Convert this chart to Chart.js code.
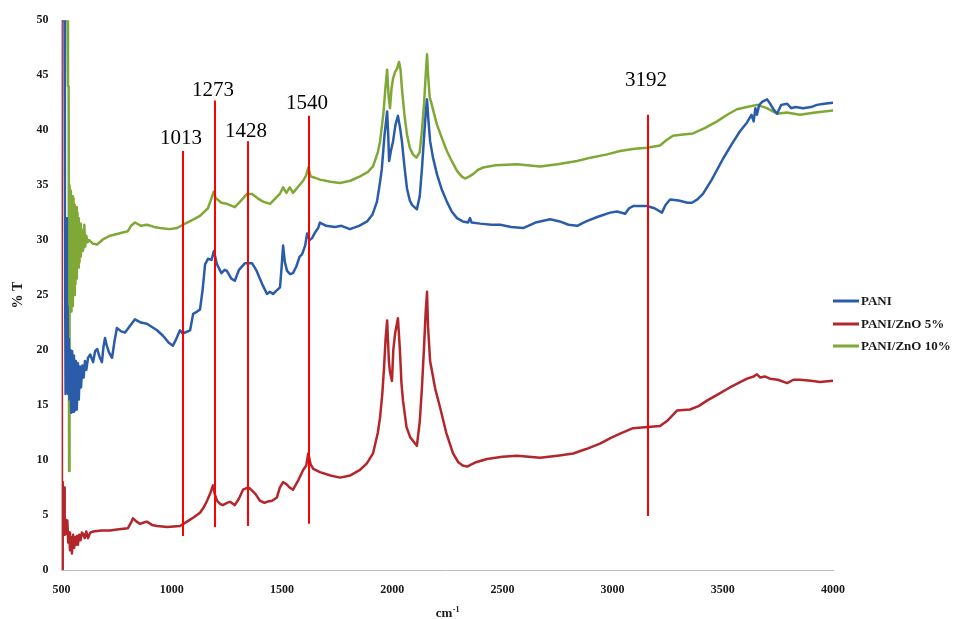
<!DOCTYPE html>
<html>
<head>
<meta charset="utf-8">
<script src="https://cdn.jsdelivr.net/npm/chart.js@4/dist/chart.umd.min.js"></script>
<style>
  html, body { margin: 0; padding: 0; background: #ffffff; }
  #wrap { width: 954px; height: 619px; position: relative; }
</style>
</head>
<body>
<div id="wrap"><canvas id="ftir" width="954" height="619"></canvas></div>
<script>
// FTIR spectra: wavenumber (cm-1) against transmittance (% T)
const seriesNames = ['PANI', 'PANI/ZnO 5%', 'PANI/ZnO 10%'];
const seriesColors = ['#2a5caa', '#b3262b', '#7fa836'];

const paniWave = [506,513,515,518,521,524,527,530,533,536,540,544,548,552,556,560,565,569,574,578,583,588,594,600,606,612,620,630,643,652,661,672,683,690,697,705,715,729,740,751,770,788,810,833,860,887,910,933,960,985,1005,1020,1037,1050,1060,1083,1097,1115,1128,1140,1151,1164,1180,1191,1205,1225,1240,1250,1270,1286,1305,1332,1364,1385,1410,1432,1445,1459,1475,1491,1498,1505,1513,1523,1537,1550,1565,1580,1591,1605,1614,1625,1637,1650,1664,1672,1700,1740,1770,1808,1850,1886,1910,1931,1945,1953,1965,1977,1982,1986,1995,2004,2015,2026,2035,2044,2055,2067,2080,2090,2112,2125,2135,2145,2152,2158,2164,2172,2185,2203,2225,2248,2270,2294,2320,2344,2353,2360,2400,2450,2490,2540,2594,2650,2717,2760,2800,2839,2880,2930,2989,3020,3057,3075,3093,3156,3190,3224,3240,3261,3300,3340,3360,3385,3410,3450,3501,3540,3578,3610,3630,3640,3648,3655,3665,3680,3701,3715,3730,3746,3765,3792,3810,3830,3864,3900,3927,3960,4000];
const paniT = [50,50,32.4,16,32,16.2,24,16,21,15.5,20,14.3,19.9,14.4,19.5,14.5,19,14.6,18.8,15.5,18.5,16.6,18.6,17.5,19,18.2,19.3,19.6,18.9,19.9,20.1,19.4,18.9,20.3,21.1,20.4,19.8,19.3,20.8,22.0,21.7,21.6,22.2,22.8,22.5,22.4,22.1,21.8,21.3,20.7,20.4,21.0,21.8,21.5,21.6,21.8,23.3,23.5,23.7,25.5,27.8,28.3,28.2,29.0,27.8,27.0,27.3,27.2,26.5,26.3,27.3,27.9,27.9,27.2,26.0,25.1,25.3,25.1,25.4,25.7,27.5,29.5,28.0,27.2,26.9,27.0,27.6,28.5,28.7,29.5,30.6,30.0,30.2,30.7,31.1,31.6,31.3,31.2,31.3,31.0,31.3,31.7,32.3,33.5,35.3,36.5,39.5,41.7,39.5,37.2,38.2,39.0,40.5,41.3,40.3,39.0,36.8,34.7,33.6,33.2,32.8,34.0,36.5,39.5,41.5,42.8,41.0,39.0,37.5,36.0,34.6,33.5,32.6,32.0,31.7,31.6,32.0,31.6,31.5,31.4,31.4,31.2,31.1,31.6,31.9,31.7,31.4,31.3,31.7,32.1,32.5,32.6,32.4,32.9,33.1,33.1,32.9,32.5,33.2,33.7,33.6,33.4,33.4,33.7,34.2,35.5,37.4,38.7,39.9,40.7,41.4,40.8,42.0,41.4,42.3,42.6,42.8,42.4,41.9,41.5,42.3,42.4,42.0,42.1,42.0,42.1,42.3,42.4,42.5];

const zno5Wave = [500,502,505,508,511,514,518,522,526,530,534,538,542,547,552,557,561,566,570,574,580,586,592,597,605,612,620,630,643,680,720,760,801,815,824,840,856,870,887,910,933,980,1037,1069,1100,1128,1145,1160,1175,1187,1195,1205,1220,1232,1250,1264,1286,1305,1323,1345,1355,1380,1400,1420,1432,1455,1477,1490,1505,1520,1535,1550,1575,1596,1610,1619,1630,1642,1672,1720,1763,1810,1854,1885,1913,1935,1945,1955,1963,1970,1977,1985,1990,1999,2005,2013,2026,2035,2042,2049,2065,2081,2100,2112,2125,2135,2145,2152,2158,2163,2172,2195,2217,2245,2276,2300,2320,2340,2380,2430,2500,2566,2620,2671,2750,2821,2880,2943,2990,3034,3093,3160,3215,3250,3292,3351,3390,3428,3480,3532,3570,3610,3640,3655,3670,3690,3714,3750,3792,3820,3850,3900,3941,4000];
const zno5T = [50,0,8,3.3,7.5,3.2,4.6,3.3,4.5,2.5,3.4,1.8,3.0,1.5,3.2,2.0,3.0,2.3,3.1,2.3,3.2,2.7,3.4,3.3,2.9,3.5,2.9,3.4,3.5,3.6,3.6,3.7,3.8,4.3,4.7,4.4,4.2,4.3,4.4,4.1,4.0,3.9,4.0,4.4,4.8,5.2,5.7,6.3,7.0,7.7,6.9,6.3,6.0,5.9,6.1,6.2,5.9,6.5,7.3,7.5,7.4,6.9,6.3,6.1,6.2,6.3,6.6,7.5,8.0,7.8,7.5,7.3,8.2,9.1,9.5,10.6,9.6,9.2,8.9,8.6,8.4,8.6,9.1,9.7,10.6,12.5,13.9,16.0,18.4,21.0,22.7,19.0,18.0,17.2,20.0,21.5,22.9,20.0,17.0,15.4,13.0,12.1,11.6,11.3,13.5,16.6,20.5,23.5,25.3,22.0,19.0,16.5,14.8,12.5,10.6,9.8,9.5,9.4,9.8,10.1,10.3,10.4,10.3,10.2,10.4,10.6,11.0,11.5,12.0,12.4,12.9,13.0,13.1,13.6,14.5,14.6,14.9,15.4,16.0,16.6,17.0,17.4,17.6,17.8,17.5,17.6,17.4,17.3,17.0,17.3,17.3,17.2,17.1,17.2];

const zno10Wave = [520,527,529,532,534,536,539,542,545,548,551,554,557,560,563,566,569,572,575,578,581,584,587,590,593,596,599,603,607,612,618,625,640,661,690,720,760,800,815,833,860,887,920,946,990,1024,1051,1090,1128,1164,1180,1190,1200,1225,1250,1286,1310,1341,1364,1390,1414,1446,1470,1490,1505,1520,1535,1550,1575,1596,1610,1619,1630,1645,1672,1720,1763,1810,1854,1890,1913,1935,1945,1960,1970,1977,1984,1990,1997,2004,2013,2022,2031,2038,2044,2055,2067,2080,2094,2110,2125,2135,2145,2152,2158,2163,2170,2176,2190,2203,2225,2248,2270,2294,2315,2330,2350,2367,2390,2412,2470,2566,2671,2750,2839,2900,2975,3034,3100,3156,3215,3245,3274,3320,3365,3420,3474,3520,3564,3610,3655,3700,3746,3790,3850,3920,4000];
const zno10T = [50,50,44,44,9,35,24,34.5,23.5,34,24,33.8,25,33.2,26,33,26.5,32.5,27.5,32,28,31.5,28.5,31,29,30.8,29.2,31.4,29.4,30.4,29.8,30,29.7,29.6,30.1,30.4,30.6,30.8,31.3,31.6,31.3,31.4,31.2,31.1,31.0,31.1,31.4,31.8,32.2,32.9,33.8,34.4,33.8,33.4,33.3,33.0,33.5,34.2,34.2,33.8,33.5,33.3,33.8,34.2,34.8,34.3,34.8,34.3,34.9,35.4,35.9,36.6,35.8,35.7,35.5,35.3,35.2,35.4,35.8,36.2,36.7,38.0,39.0,41.5,44.0,45.5,43.0,42.0,43.8,44.7,45.3,45.6,46.2,45.5,43.8,41.5,39.6,38.4,37.8,37.5,38.0,40.0,42.5,45.0,46.9,45.0,43.0,42.6,41.5,40.5,39.3,38.1,37.2,36.3,35.8,35.6,35.8,36.0,36.4,36.6,36.8,36.9,36.7,36.9,37.2,37.5,37.8,38.1,38.3,38.4,38.6,39.1,39.5,39.6,39.7,40.2,40.8,41.4,41.9,42.1,42.3,42.0,41.5,41.6,41.4,41.6,41.8];

// Marked absorption bands: label, line position, line top/bottom and label baseline (% T)
const bandLabels = ['1013', '1273', '1428', '1540', '3192'];
const bandWave = [1051, 1196, 1344, 1621, 3161];
const bandTop = [38.1, 42.7, 39.0, 41.3, 41.4];
const bandBottom = [3.1, 3.9, 4.0, 4.2, 4.9];
const bandLabelT = [38.7, 43.1, 39.4, 41.9, 44.0];

const xTicks = [500, 1000, 1500, 2000, 2500, 3000, 3500, 4000];
const yTicks = [0, 5, 10, 15, 20, 25, 30, 35, 40, 45, 50];

const toPoints = (xs, ys) => xs.map((x, i) => ({ x: x, y: ys[i] }));
const waves = [paniWave, zno5Wave, zno10Wave];
const values = [paniT, zno5T, zno10T];

const SERIF = '"Liberation Serif", "Times New Roman", "DejaVu Serif", serif';

const bandPlugin = {
  id: 'bands',
  afterDatasetsDraw(chart) {
    const { ctx, scales: { x, y } } = chart;
    ctx.save();
    ctx.strokeStyle = '#ff0000';
    ctx.lineWidth = 2;
    bandWave.forEach((w, i) => {
      const px = Math.round(x.getPixelForValue(w));
      ctx.beginPath();
      ctx.moveTo(px, y.getPixelForValue(bandTop[i]));
      ctx.lineTo(px, y.getPixelForValue(bandBottom[i]));
      ctx.stroke();
      ctx.fillStyle = '#000000';
      ctx.font = '21px ' + SERIF;
      ctx.textAlign = 'center';
      ctx.textBaseline = 'alphabetic';
      ctx.fillText(bandLabels[i], px - 2, y.getPixelForValue(bandLabelT[i]));
    });
    ctx.restore();
  }
};

const framePlugin = {
  id: 'frameText',
  afterDraw(chart) {
    const { ctx, chartArea } = chart;
    ctx.save();
    // legend
    const lx = chartArea.right;
    const rows = [301, 324, 346];
    ctx.font = 'bold 13px ' + SERIF;
    ctx.textBaseline = 'middle';
    ctx.textAlign = 'left';
    seriesNames.forEach((name, i) => {
      ctx.strokeStyle = seriesColors[i];
      ctx.lineWidth = 3;
      ctx.beginPath();
      ctx.moveTo(lx, rows[i]);
      ctx.lineTo(lx + 26, rows[i]);
      ctx.stroke();
      ctx.fillStyle = '#1a1a1a';
      ctx.fillText(name, lx + 28, rows[i] + 1);
    });
    // y axis title
    ctx.save();
    ctx.translate(18, (chartArea.top + chartArea.bottom) / 2);
    ctx.rotate(-Math.PI / 2);
    ctx.font = 'bold 14px ' + SERIF;
    ctx.textAlign = 'center';
    ctx.textBaseline = 'middle';
    ctx.fillStyle = '#1a1a1a';
    ctx.fillText('% T', 0, 0);
    ctx.restore();
    // x axis title with superscript
    ctx.font = 'bold 13px ' + SERIF;
    ctx.textBaseline = 'alphabetic';
    ctx.fillStyle = '#1a1a1a';
    const cx = (chartArea.left + chartArea.right) / 2;
    const wMain = ctx.measureText('cm').width;
    ctx.font = 'bold 8px ' + SERIF;
    const wSup = ctx.measureText('-1').width;
    const start = cx - (wMain + wSup) / 2;
    ctx.font = 'bold 13px ' + SERIF;
    ctx.textAlign = 'left';
    ctx.fillText('cm', start, 617);
    ctx.font = 'bold 8px ' + SERIF;
    ctx.fillText('-1', start + wMain + 0.5, 612);
    ctx.restore();
  }
};

new Chart(document.getElementById('ftir'), {
  type: 'line',
  data: {
    datasets: seriesNames.map((name, i) => ({
      label: name,
      data: toPoints(waves[i], values[i]),
      borderColor: seriesColors[i],
      backgroundColor: seriesColors[i],
      borderWidth: 2.5,
      borderJoinStyle: 'round',
      borderCapStyle: 'round',
      pointRadius: 0,
      tension: 0,
      fill: false
    }))
  },
  options: {
    responsive: false,
    animation: false,
    devicePixelRatio: 1,
    layout: { padding: { top: 18.7, right: 121, left: 0, bottom: 0 } },
    plugins: { legend: { display: false }, tooltip: { enabled: false } },
    scales: {
      x: {
        type: 'linear',
        min: 500,
        max: 4000,
        afterBuildTicks: s => { s.ticks = xTicks.map(v => ({ value: v })); },
        afterFit: s => { s.height = 49; },
        grid: { display: false, drawTicks: false, tickLength: 0 },
        border: { display: true, color: '#bfbfbf', width: 1 },
        ticks: {
          padding: 13,
          color: '#1a1a1a',
          font: { family: SERIF, size: 12, weight: 'bold' },
          maxRotation: 0,
          callback: v => String(v)
        }
      },
      y: {
        min: 0,
        max: 50,
        afterBuildTicks: s => { s.ticks = yTicks.map(v => ({ value: v })); },
        afterFit: s => { s.width = 61.6; },
        grid: { display: false, drawTicks: false, tickLength: 0 },
        border: { display: false },
        ticks: {
          padding: 13,
          color: '#1a1a1a',
          font: { family: SERIF, size: 12, weight: 'bold' },
          callback: v => String(v)
        }
      }
    }
  },
  plugins: [bandPlugin, framePlugin]
});
</script>
</body>
</html>
